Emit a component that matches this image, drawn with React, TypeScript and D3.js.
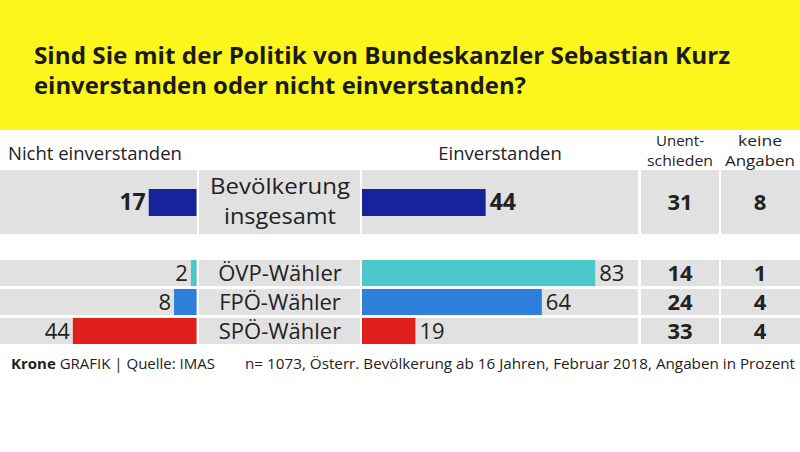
import React from "react";
import * as d3 from "d3";

const groups = ["Bevölkerung insgesamt", "ÖVP-Wähler", "FPÖ-Wähler", "SPÖ-Wähler"];
const nichtEinverstanden = [17, 2, 8, 44];
const einverstanden = [44, 83, 64, 19];
const unentschieden = [31, 14, 24, 33];
const keineAngaben = [8, 1, 4, 4];
const barColors = ["#17239a", "#4cc7cc", "#2f7fdc", "#e0211b"];

const titleLines = [
  "Sind Sie mit der Politik von Bundeskanzler Sebastian Kurz",
  "einverstanden oder nicht einverstanden?",
];
const footerLeftBold = "Krone";
const footerLeftRest = " GRAFIK | Quelle: IMAS";
const footerRight = "n= 1073, Österr. Bevölkerung ab 16 Jahren, Februar 2018, Angaben in Prozent";

const W = 800;
const H = 452;
const FONT = "'Open Sans', 'DejaVu Sans', sans-serif";
const GRAY = "#e1e1e1";
const TXT = "#222";

export default function App() {
  const x = d3.scaleLinear().domain([0, 100]).range([0, 281]);
  const leftEnd = 196.5;
  const rightStart = 362;

  const band = d3
    .scaleBand<number>()
    .domain([1, 2, 3])
    .range([260, 344])
    .paddingInner(0.1);

  const rows = groups.map((g, i) => {
    if (i === 0) {
      return { y: 170, h: 64, by: 189, bh: 27 };
    }
    const y = band(i) as number;
    const h = band.bandwidth();
    return { y, h, by: y, bh: h };
  });

  const cols = [
    { x0: 0, x1: 197 },
    { x0: 199, x1: 360 },
    { x0: 362, x1: 638 },
    { x0: 641, x1: 719 },
    { x0: 721, x1: 800 },
  ];

  return (
    <svg
      width={W}
      height={H}
      style={{ position: "fixed", left: 0, top: 0, background: "#fff" }}
      fontFamily={FONT}
    >
      <rect x={0} y={0} width={W} height={130} fill="#fdf61c" />
      {titleLines.map((t, i) => (
        <text
          key={i}
          x={34}
          y={64 + i * 30}
          fontSize={23}
          fontWeight={700}
          fill="#1a1a1a"
          textLength={i === 0 ? 696 : 492}
          lengthAdjust="spacingAndGlyphs"
        >
          {t}
        </text>
      ))}

      {/* headers */}
      <text x={8} y={160} fontSize={18.5} fill={TXT}>
        Nicht einverstanden
      </text>
      <text x={500} y={160} fontSize={18.5} fill={TXT} textAnchor="middle">
        Einverstanden
      </text>
      <text x={680} y={146} fontSize={14} fill={TXT} textAnchor="middle" textLength={48} lengthAdjust="spacingAndGlyphs">
        Unent-
      </text>
      <text x={680} y={165.5} fontSize={14} fill={TXT} textAnchor="middle" textLength={66} lengthAdjust="spacingAndGlyphs">
        schieden
      </text>
      <text x={760} y={146} fontSize={14} fill={TXT} textAnchor="middle" textLength={44} lengthAdjust="spacingAndGlyphs">
        keine
      </text>
      <text x={760} y={165.5} fontSize={14} fill={TXT} textAnchor="middle" textLength={70} lengthAdjust="spacingAndGlyphs">
        Angaben
      </text>

      {groups.map((g, i) => {
        const r = rows[i];
        const cy = r.y + r.h / 2;
        const big = i === 0;
        const valSize = big ? 23 : 22;
        const lw = x(nichtEinverstanden[i]);
        const rw = x(einverstanden[i]);
        return (
          <g key={g}>
            {cols.map((c, j) => (
              <rect key={j} x={c.x0} y={r.y} width={c.x1 - c.x0} height={r.h} fill={GRAY} />
            ))}
            <rect x={leftEnd - lw} y={r.by} width={lw} height={r.bh} fill={barColors[i]} />
            <rect x={rightStart} y={r.by} width={rw} height={r.bh} fill={barColors[i]} />
            <text
              x={leftEnd - lw - 3}
              y={cy}
              dy="0.36em"
              fontSize={valSize}
              fontWeight={big ? 700 : 400}
              fill={TXT}
              textAnchor="end"
            >
              {nichtEinverstanden[i]}
            </text>
            <text
              x={rightStart + rw + 4}
              y={cy}
              dy="0.36em"
              fontSize={valSize}
              fontWeight={big ? 700 : 400}
              fill={TXT}
            >
              {einverstanden[i]}
            </text>
            <text x={680} y={cy} dy="0.36em" fontSize={22} fontWeight={700} fill={TXT} textAnchor="middle">
              {unentschieden[i]}
            </text>
            <text x={760} y={cy} dy="0.36em" fontSize={22} fontWeight={700} fill={TXT} textAnchor="middle">
              {keineAngaben[i]}
            </text>
            {big ? (
              <>
                <text x={280} y={194} fontSize={22} fill={TXT} textAnchor="middle" textLength={140} lengthAdjust="spacingAndGlyphs">
                  {g.split(" ")[0]}
                </text>
                <text x={280} y={224} fontSize={22} fill={TXT} textAnchor="middle" textLength={112} lengthAdjust="spacingAndGlyphs">
                  {g.split(" ")[1]}
                </text>
              </>
            ) : (
              <text x={280} y={cy} dy="0.36em" fontSize={22} fill={TXT} textAnchor="middle">
                {g}
              </text>
            )}
          </g>
        );
      })}

      {/* footer */}
      <text x={11} y={369} fontSize={15} fill={TXT}>
        <tspan fontWeight={700}>{footerLeftBold}</tspan>
        <tspan>{footerLeftRest}</tspan>
      </text>
      <text x={795} y={369} fontSize={15} fill={TXT} textAnchor="end" textLength={550} lengthAdjust="spacingAndGlyphs">
        {footerRight}
      </text>
    </svg>
  );
}
